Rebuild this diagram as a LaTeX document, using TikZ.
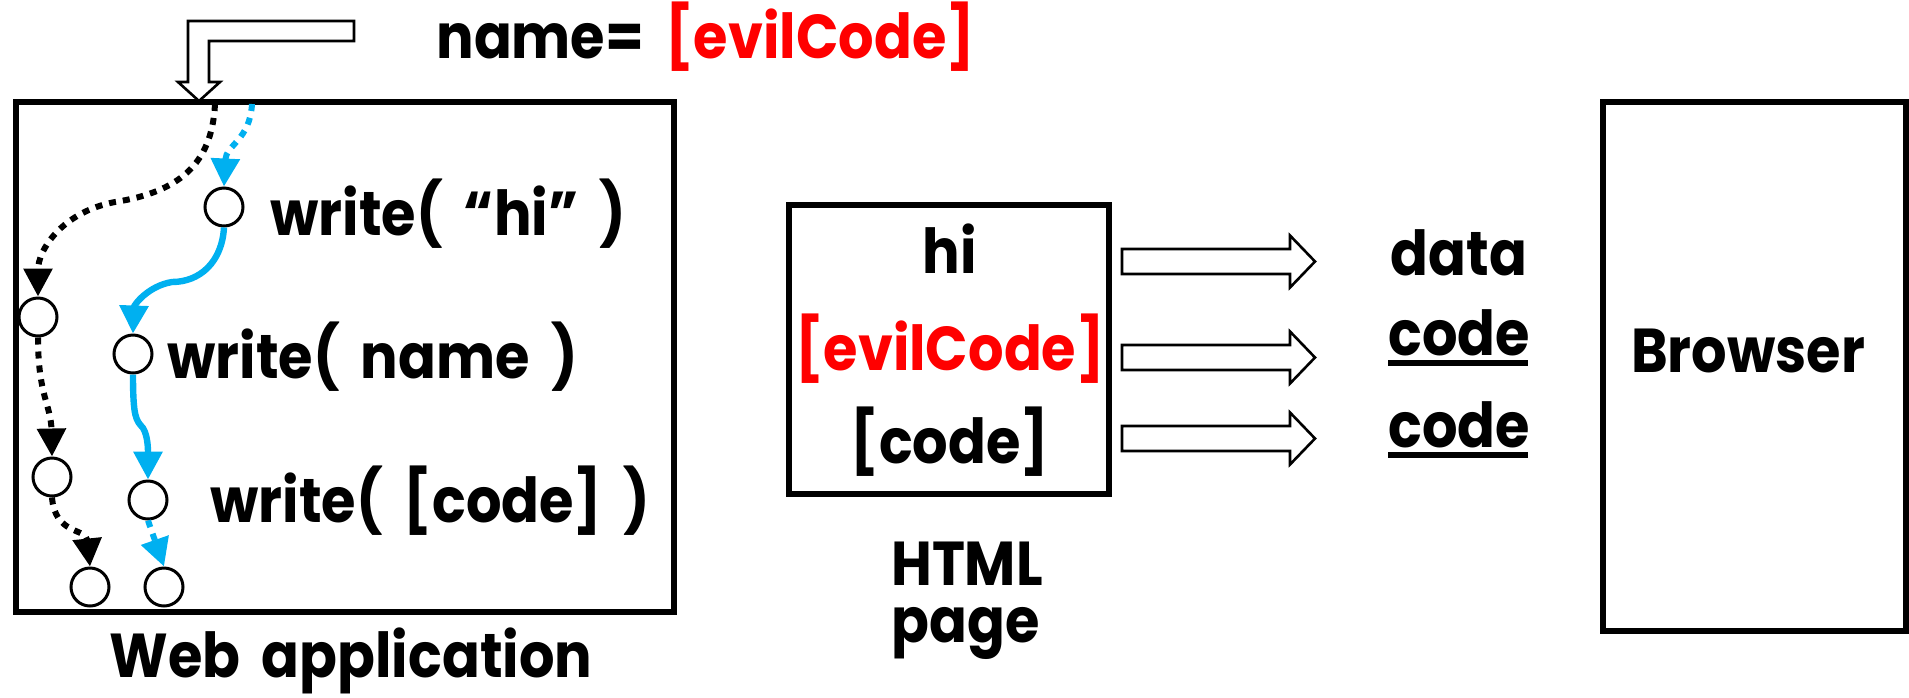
\documentclass[tikz,border=0pt]{standalone}
\usepackage{fontspec}
\setmainfont{Poppins}[FakeStretch=0.9,WordSpace=1.8]
\usetikzlibrary{arrows.meta,calc}
\definecolor{flowblue}{RGB}{0,176,240}
\definecolor{evilred}{RGB}{255,0,0}

\begin{document}
\begin{tikzpicture}[x=0.5pt,y=-0.5pt,
  txt/.style={inner sep=0pt,font=\bfseries\fontsize{31}{37}\selectfont},
  frame/.style={draw,line width=3pt,inner sep=0pt},
  stop/.style={circle,draw,line width=1.5pt,minimum size=19pt,inner sep=0pt},
  tip/.style={-{Triangle[length=14pt,width=14pt]}},
  blackdot/.style={tip,line width=3pt,dash pattern=on 3.5pt off 3.5pt},
  bluedot/.style={tip,flowblue,line width=3pt,dash pattern=on 3.5pt off 3.5pt},
  blueflow/.style={tip,flowblue,line width=3.2pt},
  hollow/.style={draw,line width=1.3pt,fill=white,line join=miter}]
\useasboundingbox (0,0) rectangle (1909,697);

% boxes
\node[frame,minimum width=329pt,minimum height=255pt] (web) at (345,357) {};
\node[frame,line width=2.6pt,minimum width=160pt,minimum height=144.5pt] (html) at (949,349.5) {};
\node[frame,line width=2.6pt,minimum width=151.5pt,minimum height=264.5pt] (browser) at (1754.5,366.5) {};

% input string
\node[txt,anchor=base west] (input) at (436,58) {name= \textcolor{evilred}{[evilCode]}};
\draw[hollow] (354,21) -- (188,21) -- (188,82) -- (178,82) -- (199,101)
  -- (220,82) -- (209,82) -- (209,41) -- (354,41) -- cycle;

% program statements
\node[txt,anchor=base west] (s1) at (270,235) {write( “hi” )};
\node[txt,anchor=base west] (s2) at (167,378) {write( name )};
\node[txt,anchor=base west] (s3) at (210,522) {write( [code] )};
\node[txt,anchor=base] (weblbl) at (351,677) {Web application};

% control points of the two runs
\node[stop] (b1) at (224,207) {};
\node[stop] (b2) at (133,354) {};
\node[stop] (b3) at (148,500) {};
\node[stop] (b4) at (164,587) {};
\node[stop] (k1) at (38,317) {};
\node[stop] (k2) at (52,477) {};
\node[stop] (k3) at (90,587) {};

\coordinate (kin) at (215,104);
\coordinate (bin) at (252,104);

% attacker run (black)
\draw[blackdot] (kin) .. controls (212,165) and (178,192) .. (115,202)
  .. controls (62,212) and (38,250) .. (k1.north);
\draw[blackdot] (k1.south) .. controls (38,395) and (51,405) .. (k2.north);
\draw[blackdot] (k2.south) .. controls (55,535) and (86,528) .. (k3.north);

% normal run (blue)
\draw[bluedot] (bin) .. controls (250,140) and (226,145) .. (b1.north);
\draw[blueflow] (b1.south) .. controls (222,262) and (200,282) .. (172,282)
  .. controls (148,286) and (134,305) .. (b2.north);
\draw[blueflow] (b2.south) .. controls (133,418) and (136,420) .. (143,428)
  .. controls (148,436) and (148,450) .. (b3.north);
\draw[bluedot] (b3.south) -- (b4.north);

% html page content
\node[txt,anchor=base] (hi) at (950,273) {hi};
\node[txt,anchor=base,text=evilred] (evil) at (950,370) {[evilCode]};
\node[txt,anchor=base] (code) at (950,463) {[code]};
\node[txt,anchor=base] (htmllbl) at (967,585) {HTML};
\node[txt,anchor=base] (pagelbl) at (966,642) {page};

% interpretation
\node[txt,anchor=base] (data) at (1459,275) {data};
\node[txt,anchor=base] (code1) at (1459,355) {code};
\node[txt,anchor=base] (code2) at (1459,447) {code};
\draw[line width=3pt] (1388,363) -- (1528,363);
\draw[line width=3pt] (1388,455) -- (1528,455);

\foreach \y in {261.5,357.5,438.5}{
  \draw[hollow] (1122,\y-12.5) -- (1290,\y-12.5) -- (1290,\y-26) -- (1315,\y)
    -- (1290,\y+26) -- (1290,\y+12.5) -- (1122,\y+12.5) -- cycle;
}

\node[txt,anchor=base] (brlbl) at (1748,372) {Browser};
\end{tikzpicture}
\end{document}
